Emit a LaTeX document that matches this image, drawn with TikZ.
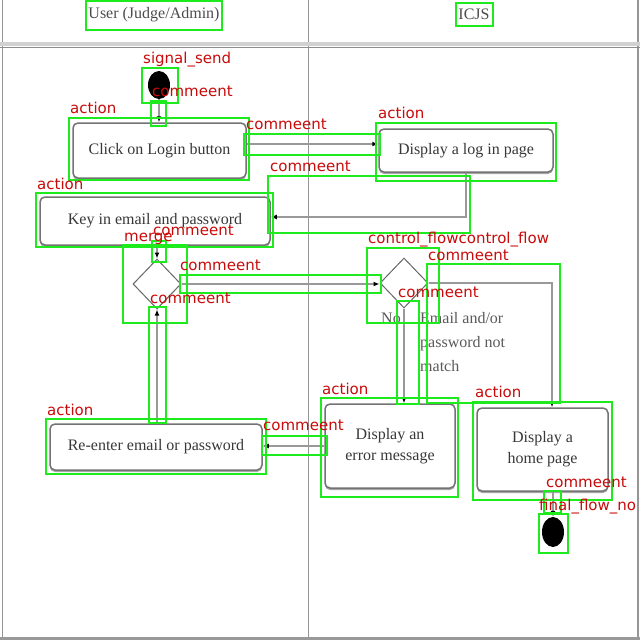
\documentclass[tikz,border=0pt]{standalone}
\usepackage{fontspec}
\setmainfont{Liberation Serif}
\newfontfamily\lblfont{DejaVu Sans}
\usetikzlibrary{arrows.meta,shapes.geometric,shadows}
\definecolor{ovgreen}{RGB}{30,235,30}
\definecolor{ovred}{RGB}{200,10,10}
\definecolor{lanegray}{RGB}{150,150,150}
\tikzset{
  act/.style={draw=black!55, line width=1.5pt, rounded corners=5pt, fill=white, inner sep=0pt,
    font=\fontsize{16}{21}\selectfont, text=black!78, align=center,
    drop shadow={shadow xshift=0pt, shadow yshift=-2pt, fill=black!35, opacity=1}},
  dec/.style={diamond, draw=black!60, line width=1pt, inner sep=0pt, minimum width=48pt,
    minimum height=50pt, fill=white},
  blob/.style={ellipse, fill=black, inner sep=0pt, minimum width=22pt, minimum height=28pt},
  flow/.style={draw=black!40, line width=1.8pt, -{Latex[length=6pt,width=5pt,black]}},
  gbox/.style={draw=ovgreen, line width=2.5pt},
  tag/.style={text=ovred, font=\lblfont\fontsize{15}{15}\selectfont, anchor=base west, inner sep=0pt},
  lane/.style={draw=lanegray, line width=1.5pt},
  head/.style={font=\fontsize{16}{18}\selectfont, text=black!70, inner sep=0pt},
  guard/.style={font=\fontsize{16}{24}\selectfont, text=black!65, align=left, inner sep=0pt}
}
\begin{document}
\begin{tikzpicture}[x=1pt,y=-1pt]
\useasboundingbox (0,0) rectangle (640,640);
% swimlanes
\draw[lane] (2.5,0) -- (2.5,638);
\draw[lane] (308.5,0) -- (308.5,638);
\draw[lane] (638,0) -- (638,638);
\draw[draw=black!40, line width=3pt] (0,638.5) -- (640,638.5);
\draw[draw=black!18, line width=4pt] (0,44) -- (640,44);
\draw[draw=black!45, line width=1pt] (0,47) -- (640,47);
\node[head] (hU) at (154,15) {User (Judge/Admin)};
\node[head] (hI) at (474,14) {ICJS};
% nodes
\node[blob] (start) at (159,85) {};
\node[act, minimum width=173pt, minimum height=55pt] (click) at (159.5,150.5) {Click on Login button};
\node[act, minimum width=174pt, minimum height=43pt] (login) at (466,150.5) {Display a log in page};
\node[act, minimum width=230pt, minimum height=48pt] (key) at (155,221) {Key in email and password};
\node[dec] (merge) at (157,284) {};
\node[dec] (dec) at (404,283) {};
\node[act, minimum width=212pt, minimum height=46pt] (reenter) at (156,447) {Re-enter email or password};
\node[act, minimum width=130pt, minimum height=84pt] (err) at (390,446) {Display an\\error message};
\node[act, minimum width=131pt, minimum height=83pt] (home) at (542.5,449.5) {Display a\\home page};
\node[blob, minimum height=30pt] (final) at (553,532) {};
\node[guard, anchor=east] (no) at (401,318) {No};
\node[guard, anchor=north west] (cond) at (420,312) {Email and/or\\password not\\match};
% connectors
\draw[flow] (start) -- (start |- click.north);
\draw[flow] (click.east |- 0,144) -- (login.west |- 0,144);
\draw[flow] (login.south) |- ([yshift=4pt]key.east);
\draw[flow] (merge.north |- key.south) -- (merge.north);
\draw[flow] (merge.east) -- (merge.east -| dec.west);
\draw[flow] (dec.south) -- (dec.south |- err.north);
\draw[flow] (dec.east) -| ([xshift=9.5pt]home.north);
\draw[flow] (err.west) -- (err.west -| reenter.east);
\draw[flow] (merge.south |- reenter.north) -- (merge.south);
\draw[flow] ([xshift=10.5pt]home.south) -- (final.north);
% annotation overlay boxes
\draw[gbox] (86,1) rectangle (222,30);
\draw[gbox] (456,3) rectangle (493,26);
\draw[gbox] (142,68) rectangle (178,103);
\draw[gbox] (151,101) rectangle (166,126);
\draw[gbox] (69,118) rectangle (249,180);
\draw[gbox] (244,134) rectangle (380,155);
\draw[gbox] (376,123) rectangle (556,181);
\draw[gbox] (268,176) rectangle (470,233);
\draw[gbox] (36,193) rectangle (273,247);
\draw[gbox] (152,241) rectangle (166,262);
\draw[gbox] (123,245) rectangle (187,323);
\draw[gbox] (180,275) rectangle (381,293);
\draw[gbox] (367,248) rectangle (439,323);
\draw[gbox] (427,264) rectangle (560,403);
\draw[gbox] (397,301) rectangle (419,404);
\draw[gbox] (321,398) rectangle (458,497);
\draw[gbox] (473,402) rectangle (612,500);
\draw[gbox] (544,491) rectangle (561,513);
\draw[gbox] (539,514) rectangle (568,553);
\draw[gbox] (46,419) rectangle (266,474);
\draw[gbox] (262,436) rectangle (327,455);
\draw[gbox] (149,307) rectangle (166,423);
% annotation overlay labels
\node[tag] (t1) at (143,63) {signal\_send};
\node[tag] (t2) at (152,96) {commeent};
\node[tag] (t3) at (70,113) {action};
\node[tag] (t4) at (246,129) {commeent};
\node[tag] (t5) at (378,118) {action};
\node[tag] (t6) at (270,171) {commeent};
\node[tag] (t7) at (37,189) {action};
\node[tag] (t8) at (124,241) {merge};
\node[tag] (t9) at (153,235) {commeent};
\node[tag] (t10) at (180,270) {commeent};
\node[tag] (t11) at (150,303) {commeent};
\node[tag] (t12) at (368,243) {control\_flowcontrol\_flow};
\node[tag] (t13) at (428,260) {commeent};
\node[tag] (t14) at (398,297) {commeent};
\node[tag] (t15) at (322,394) {action};
\node[tag] (t16) at (475,397) {action};
\node[tag] (t17) at (47,415) {action};
\node[tag] (t18) at (263,430) {commeent};
\node[tag] (t19) at (546,487) {commeent};
\node[tag] (t20) at (539,510) {final\_flow\_no};
\end{tikzpicture}
\end{document}
